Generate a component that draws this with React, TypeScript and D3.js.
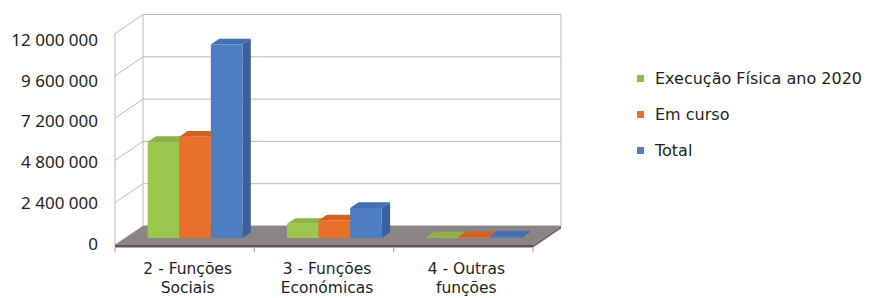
import React from "react";
import * as d3 from "d3";

const categories = ["2 - Funções Sociais", "3 - Funções Económicas", "4 - Outras funções"];
const categoryLines = [["2 - Funções", "Sociais"], ["3 - Funções", "Económicas"], ["4 - Outras", "funções"]];
const seriesNames = ["Execução Física ano 2020", "Em curso", "Total"];
const execucao = [5450000, 800000, 40000];
const emCurso = [5750000, 1000000, 50000];
const total = [10980000, 1700000, 90000];
const yTicks = [0, 2400000, 4800000, 7200000, 9600000, 12000000];
const yTickLabels = ["0", "2 400 000", "4 800 000", "7 200 000", "9 600 000", "12 000 000"];

const seriesValues = [execucao, emCurso, total];
const frontColors = ["#9cc74f", "#e9702b", "#4d7ec4"];
const topColors = ["#8db245", "#d26224", "#4470b3"];
const sideColors = ["#7f9f3d", "#b9531d", "#3b619c"];
const legendColors = ["#8fbb53", "#e46f31", "#4d7ec4"];

const W = 882, H = 298;
const FX0 = 115, FX1 = 533, FY0 = 245;
const DX = 28, DY = -19;
const D0 = 0.37, D1 = 0.67;
const FONT_NUM = "'Noto Sans', 'DejaVu Sans', sans-serif";
const FONT_TXT = "'DejaVu Sans', Verdana, sans-serif";

export default function App() {
  const h = d3.scaleLinear().domain([0, 12000000]).range([0, 211.5]);
  const labelY = d3.scaleLinear().domain([0, 12000000]).range([250, 45.7]);
  const xBand = d3.scaleBand<string>().domain(categories).range([FX0, FX1]).padding(0);
  const groupW = xBand.bandwidth() * 0.68;
  const xSeries = d3.scaleBand<number>().domain([0, 1, 2]).range([0, groupW]).padding(0);

  const P = (x: number, v: number, d: number): [number, number] => [x + d * DX, FY0 - h(v) + d * DY];
  const poly = (pts: [number, number][]) => pts.map((p) => p.join(",")).join(" ");

  const back0 = P(FX0, 0, 1);
  const backTop = P(FX0, 12000000, 1);
  const backR = P(FX1, 0, 1);

  const bars: JSX.Element[] = [];
  categories.forEach((c, ci) => {
    const gx = (xBand(c) as number) + (xBand.bandwidth() - groupW) / 2;
    seriesValues.forEach((vals, si) => {
      const v = vals[ci];
      const x0 = gx + (xSeries(si) as number);
      const x1 = x0 + xSeries.bandwidth();
      bars.push(
        <g key={`b${ci}-${si}`}>
          <polygon points={poly([P(x1, 0, D0), P(x1, v, D0), P(x1, v, D1), P(x1, 0, D1)])} fill={sideColors[si]} />
          <polygon points={poly([P(x0, v, D0), P(x1, v, D0), P(x1, v, D1), P(x0, v, D1)])} fill={topColors[si]} />
          <polygon points={poly([P(x0, 0, D0), P(x1, 0, D0), P(x1, v, D0), P(x0, v, D0)])} fill={frontColors[si]} />
        </g>
      );
    });
  });

  const grid = "#b9b9b9";

  return (
    <svg width={W} height={H} style={{ position: "absolute", left: 0, top: 0, background: "#fff" }}>
      {/* back wall */}
      <rect x={backTop[0]} y={backTop[1]} width={backR[0] - back0[0]} height={back0[1] - backTop[1]} fill="#fff" stroke={grid} strokeWidth={1} />
      {yTicks.map((t) => {
        const a = P(FX0, t, 1), b = P(FX1, t, 1), f = P(FX0, t, 0);
        return (
          <g key={`g${t}`}>
            <line x1={a[0]} y1={a[1]} x2={b[0]} y2={b[1]} stroke={grid} />
            <line x1={f[0]} y1={f[1]} x2={a[0]} y2={a[1]} stroke={grid} />
          </g>
        );
      })}
      {/* left wall front edge */}
      <line x1={FX0} y1={P(FX0, 12000000, 0)[1]} x2={FX0} y2={FY0} stroke={grid} />
      {/* floor */}
      <polygon points={poly([P(FX0, 0, 0), P(FX1, 0, 0), P(FX1, 0, 1), P(FX0, 0, 1)])} fill="#8b8484" />
      <polygon points={poly([[FX0, FY0], [FX1, FY0], [FX1, FY0 + 2.5], [FX0, FY0 + 2.5]])} fill="#5a5656" />
      <polygon points={poly([[FX1, FY0], P(FX1, 0, 1), [P(FX1, 0, 1)[0], P(FX1, 0, 1)[1] + 2.5], [FX1, FY0 + 2.5]])} fill="#6e6868" />
      {/* x ticks */}
      {[0, 1, 2, 3].map((i) => {
        const x = FX0 + i * xBand.bandwidth();
        return <line key={`t${i}`} x1={x} y1={FY0 + 2.5} x2={x} y2={FY0 + 7} stroke="#a0a0a0" />;
      })}
      {bars}
      {/* y labels */}
      {yTicks.map((t, i) => (
        <text key={`yl${t}`} x={98} y={labelY(t)} textAnchor="end" fontSize={17} fontFamily={FONT_NUM} fill="#1e1e1e">
          {yTickLabels[i]}
        </text>
      ))}
      {/* category labels */}
      {categories.map((c, ci) => {
        const cx = (xBand(c) as number) + xBand.bandwidth() / 2 + 3;
        return (
          <g key={`cl${ci}`}>
            {categoryLines[ci].map((ln, li) => (
              <text key={li} x={cx} y={274 + li * 18.5} textAnchor="middle" fontSize={15.5} fontFamily={FONT_TXT} fill="#1e1e1e">
                {ln}
              </text>
            ))}
          </g>
        );
      })}
      {/* legend */}
      {seriesNames.map((s, i) => (
        <g key={`lg${i}`}>
          <rect x={637} y={75 + i * 36} width={7} height={7} fill={legendColors[i]} />
          <text x={655} y={84 + i * 36} fontSize={16} fontFamily={FONT_TXT} fill="#1e1e1e">{s}</text>
        </g>
      ))}
    </svg>
  );
}
